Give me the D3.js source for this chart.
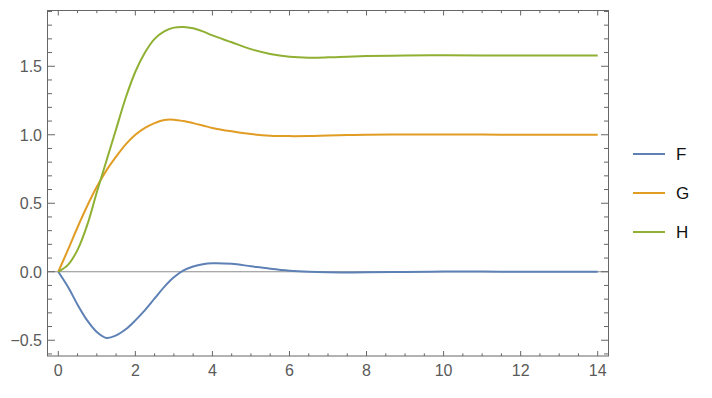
<!DOCTYPE html>
<html>
<head>
<meta charset="utf-8">
<script src="https://cdn.jsdelivr.net/npm/d3@7"></script>
<style>
  body { margin: 0; background: #fff; }
  svg { display: block; font-family: "Liberation Sans", Arial, sans-serif; }
</style>
</head>
<body>
<svg id="chart" width="712" height="398"></svg>
<script>
// sample points
const xs = [0, 0.25, 0.5, 0.75, 1, 1.25, 1.5, 1.75, 2, 2.25, 2.5, 2.75, 3, 3.25, 3.5, 3.75, 4, 4.5, 5, 5.5, 6, 6.5, 7, 7.5, 8, 9, 10, 11, 12, 13, 14];
const fVals = [0, -0.11, -0.24, -0.355, -0.44, -0.483, -0.465, -0.42, -0.355, -0.28, -0.195, -0.11, -0.04, 0.01, 0.038, 0.055, 0.062, 0.058, 0.04, 0.022, 0.008, 0.0, -0.004, -0.005, -0.004, -0.001, 0.001, 0.001, 0, 0, 0];
const gVals = [0, 0.16, 0.325, 0.48, 0.62, 0.74, 0.84, 0.93, 1.0, 1.05, 1.085, 1.108, 1.11, 1.1, 1.085, 1.068, 1.05, 1.025, 1.005, 0.993, 0.99, 0.991, 0.995, 0.998, 1.0, 1.002, 1.002, 1.001, 1.0, 1.0, 1.0];
const hVals = [0, 0.05, 0.16, 0.34, 0.58, 0.81, 1.04, 1.27, 1.46, 1.6, 1.7, 1.755, 1.782, 1.787, 1.777, 1.755, 1.725, 1.675, 1.625, 1.59, 1.57, 1.563, 1.565, 1.57, 1.574, 1.578, 1.58, 1.579, 1.578, 1.578, 1.578];

const seriesNames = ["F", "G", "H"];
const seriesColors = ["#5e81b5", "#e19c24", "#8fb032"];
const xTicks = [0, 2, 4, 6, 8, 10, 12, 14];
const yTicks = [-0.5, 0, 0.5, 1.0, 1.5];

const series = [fVals, gVals, hVals].map((vals, i) => ({
  name: seriesNames[i],
  color: seriesColors[i],
  values: vals.map((v, j) => ({x: xs[j], y: v}))
}));

const svg = d3.select("svg#chart");
const plotL = 47.5, plotR = 608.5, plotT = 10.5, plotB = 356;

const x = d3.scaleLinear().domain([-0.28, 14.28]).range([plotL, plotR]);
const y = d3.scaleLinear().domain([-0.615, 1.907]).range([plotB, plotT]);

const frameColor = "#666";
const labelColor = "#5a5a5a";

// zero axis
svg.append("line")
  .attr("x1", plotL).attr("x2", plotR)
  .attr("y1", y(0)).attr("y2", y(0))
  .attr("stroke", "#8c8c8c").attr("stroke-width", 1.2);

// curves
const line = d3.line()
  .x(d => x(d.x))
  .y(d => y(d.y))
  .curve(d3.curveCatmullRom.alpha(0.5));

svg.selectAll(".curve")
  .data(series)
  .enter().append("path")
  .attr("class", "curve")
  .attr("fill", "none")
  .attr("stroke", d => d.color)
  .attr("stroke-width", 2)
  .attr("d", d => line(d.values));

// frame ticks (inward, on all four sides)
const xMinor = d3.range(0, 14.01, 0.5).filter(v => xTicks.indexOf(v) < 0);
const yMinor = d3.range(-6, 20).map(v => v / 10).filter(v => yTicks.every(t => Math.abs(t - v) > 1e-6) && v >= -0.615 && v <= 1.907);

const ticks = svg.append("g").attr("stroke", frameColor).attr("stroke-width", 1);
function tickX(vals, len) {
  vals.forEach(v => {
    ticks.append("line").attr("x1", x(v)).attr("x2", x(v)).attr("y1", plotB).attr("y2", plotB - len);
    ticks.append("line").attr("x1", x(v)).attr("x2", x(v)).attr("y1", plotT).attr("y2", plotT + len);
  });
}
function tickY(vals, len) {
  vals.forEach(v => {
    ticks.append("line").attr("y1", y(v)).attr("y2", y(v)).attr("x1", plotL).attr("x2", plotL + len);
    ticks.append("line").attr("y1", y(v)).attr("y2", y(v)).attr("x1", plotR).attr("x2", plotR - len);
  });
}
tickX(xTicks, 5);
tickX(xMinor, 2.7);
tickY(yTicks, 7.5);
tickY(yMinor, 4.5);

svg.append("rect")
  .attr("x", plotL).attr("y", plotT)
  .attr("width", plotR - plotL).attr("height", plotB - plotT)
  .attr("fill", "none").attr("stroke", frameColor).attr("stroke-width", 1);

// tick labels
svg.selectAll(".xlab")
  .data(xTicks)
  .enter().append("text")
  .attr("class", "xlab")
  .attr("x", d => x(d))
  .attr("y", 376)
  .attr("text-anchor", "middle")
  .attr("fill", labelColor)
  .style("font-size", "16px")
  .text(d => d);

svg.selectAll(".ylab")
  .data(yTicks)
  .enter().append("text")
  .attr("class", "ylab")
  .attr("x", 42)
  .attr("y", d => y(d))
  .attr("dy", "0.36em")
  .attr("text-anchor", "end")
  .attr("fill", labelColor)
  .style("font-size", "16px")
  .text(d => d3.format(".1f")(d));

// legend
const legend = svg.selectAll(".legend")
  .data(series)
  .enter().append("g")
  .attr("class", "legend")
  .attr("transform", (d, i) => `translate(0, ${154 + i * 39})`);

legend.append("line")
  .attr("x1", 633).attr("x2", 665)
  .attr("stroke", d => d.color)
  .attr("stroke-width", 2);

legend.append("text")
  .attr("x", 676)
  .attr("dy", "0.36em")
  .attr("fill", "#111")
  .style("font-size", "17px")
  .text(d => d.name);
</script>
</body>
</html>
